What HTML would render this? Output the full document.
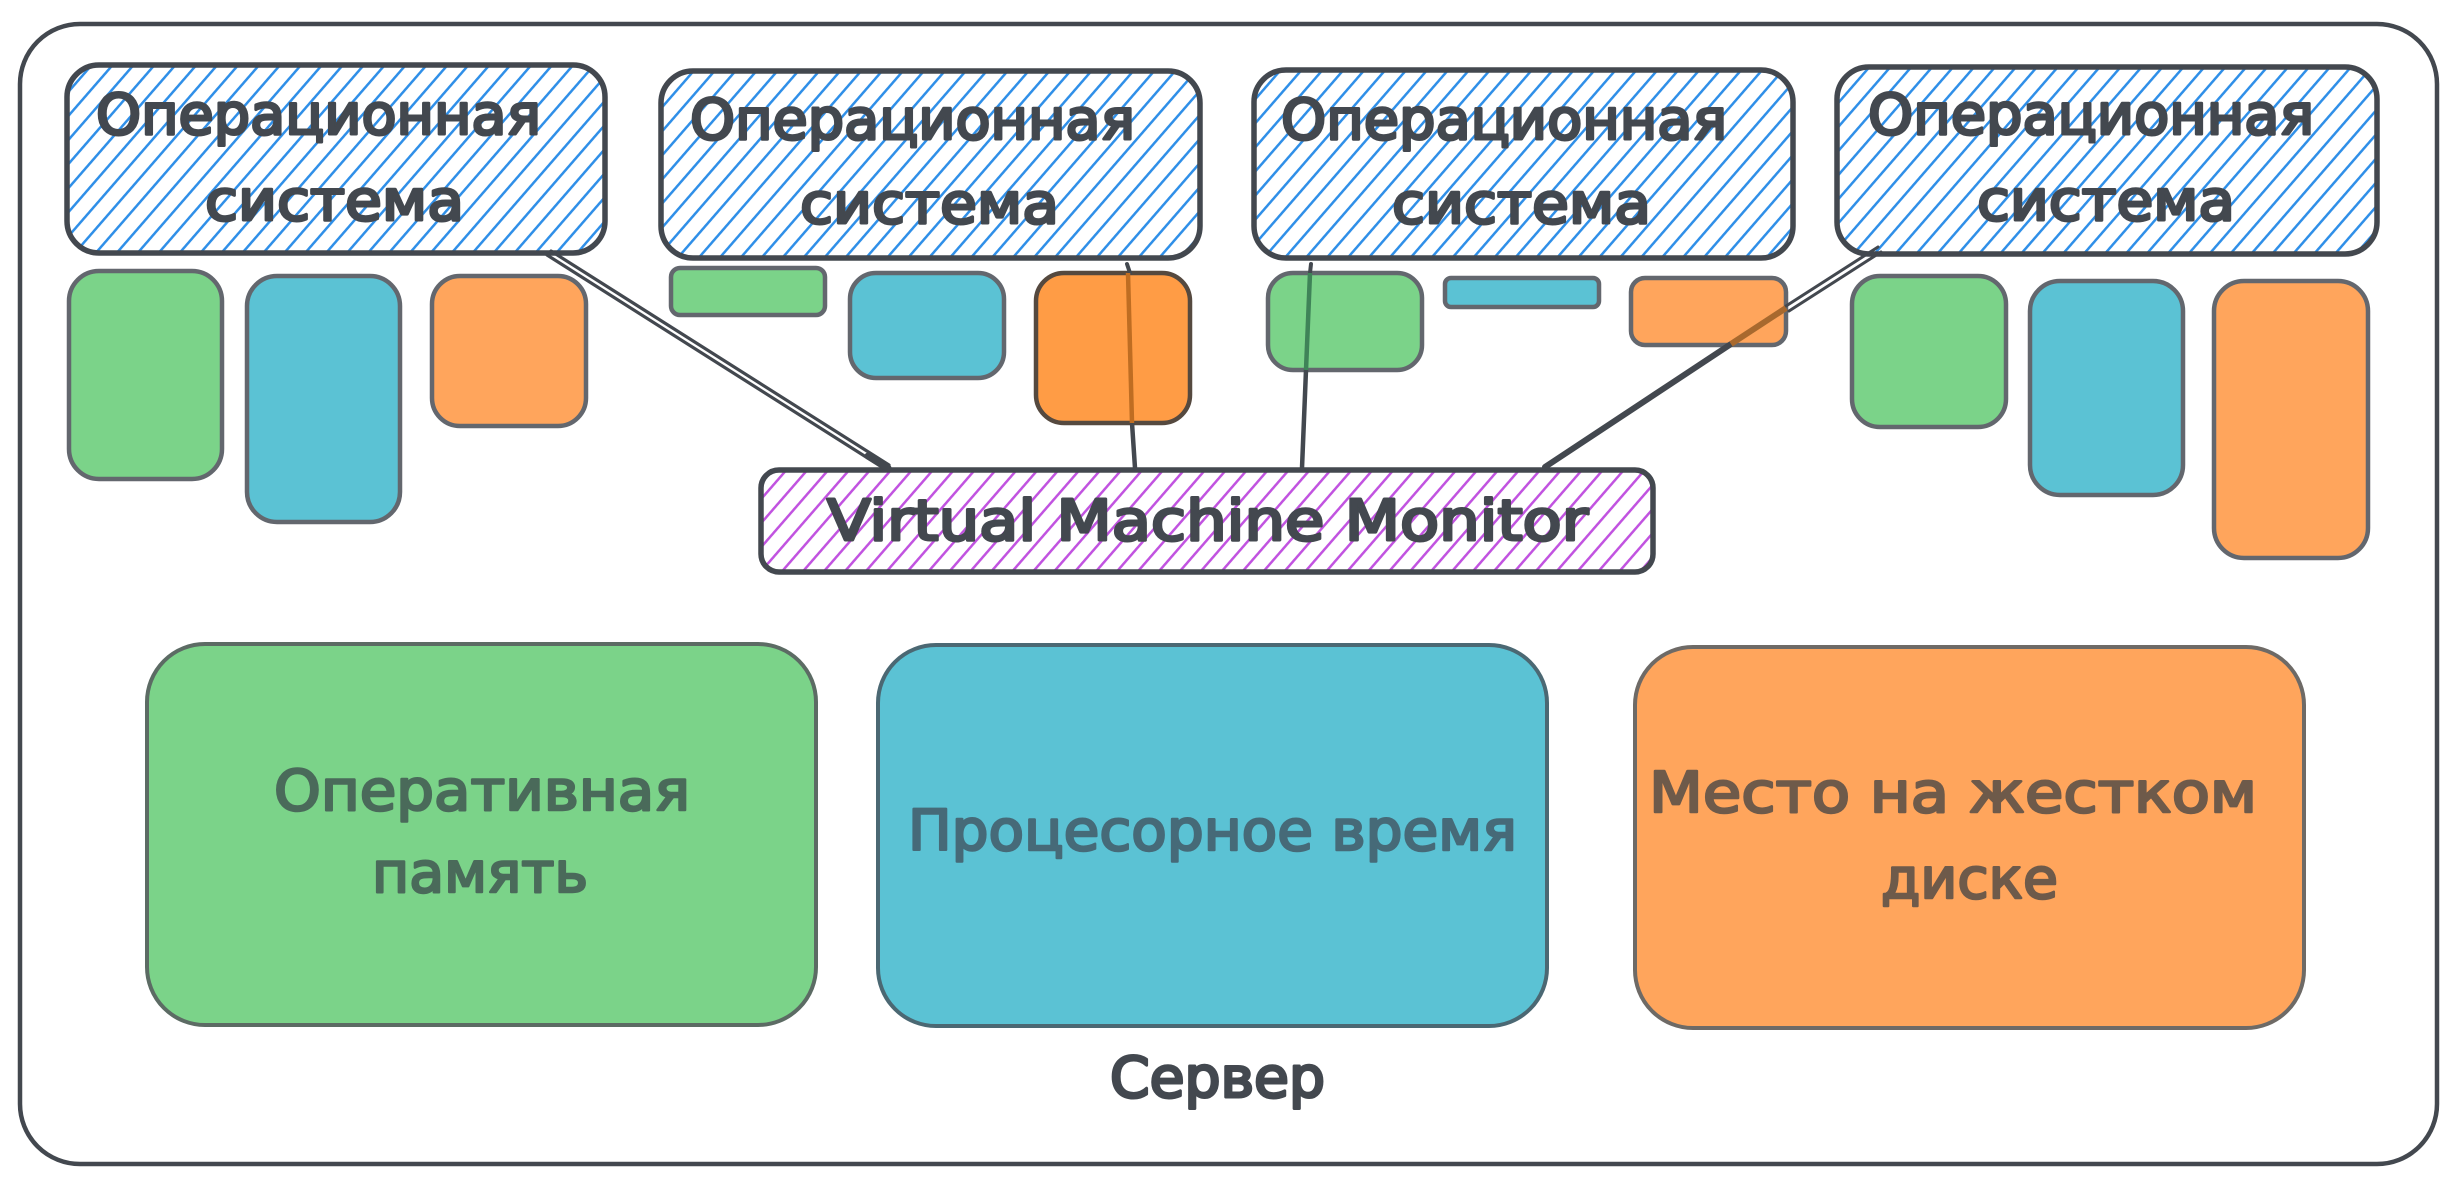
<!DOCTYPE html>
<html><head><meta charset="utf-8"><style>
html,body{margin:0;padding:0;background:#fff}
svg{display:block}
text{font-family:"DejaVu Sans","Liberation Sans",sans-serif;text-anchor:start;paint-order:stroke;stroke-linejoin:round}
.d{fill:#43484f;stroke:#43484f;stroke-width:3;font-size:56px}
</style></head><body>
<svg width="2457" height="1184" viewBox="0 0 2457 1184" xmlns="http://www.w3.org/2000/svg">
<defs>
<pattern id="hb" patternUnits="userSpaceOnUse" width="15.8" height="15.8" patternTransform="rotate(41)"><rect x="0" y="0" width="2.5" height="15.8" fill="#2f8fe8"/></pattern>
<pattern id="hp" patternUnits="userSpaceOnUse" width="15.8" height="15.8" patternTransform="rotate(41)"><rect x="0" y="0" width="2.5" height="15.8" fill="#c153e0"/></pattern>
</defs>
<rect width="2457" height="1184" fill="#fff"/>
<rect x="20" y="24" width="2417" height="1140" rx="60" fill="#fff" stroke="#43484f" stroke-width="4.5"/>

<!-- OS boxes -->
<g fill="url(#hb)" stroke="#43484f" stroke-width="5.5">
<rect x="67" y="65" width="538" height="188" rx="32"/>
<rect x="661" y="71" width="539" height="187" rx="32"/>
<rect x="1254" y="70" width="539" height="188" rx="32"/>
<rect x="1837" y="67" width="540" height="187" rx="32"/>
</g>

<!-- small boxes -->
<g stroke="#63676e" stroke-width="4.5">
<g fill="#7bd389">
<rect x="69" y="271" width="153" height="208" rx="30"/>
<rect x="671" y="268" width="154" height="47" rx="9"/>
<rect x="1268" y="273" width="154" height="97" rx="25"/>
<rect x="1852" y="276" width="154" height="151" rx="28"/>
</g>
<g fill="#5bc2d4">
<rect x="247" y="276" width="153" height="246" rx="30"/>
<rect x="850" y="273" width="154" height="105" rx="26"/>
<rect x="1445" y="278" width="154" height="29" rx="6"/>
<rect x="2030" y="281" width="153" height="214" rx="30"/>
</g>
<g fill="#ffa55c">
<rect x="432" y="276" width="154" height="150" rx="28"/>
<rect x="1036" y="273" width="154" height="150" rx="28" fill="#ff9c45" stroke="#55493f"/>
<rect x="1631" y="278" width="155" height="67" rx="14"/>
<rect x="2214" y="281" width="154" height="277" rx="30"/>
</g>
</g>

<!-- VMM -->
<rect x="761" y="470" width="892" height="102" rx="18" fill="url(#hp)" stroke="#43484f" stroke-width="5.5"/>

<!-- connectors -->
<g stroke="#43484f" fill="none" stroke-linecap="round">
<path d="M551 251L889 465" stroke-width="3.2"/>
<path d="M547 255L885 469" stroke-width="3.2"/>
<path d="M868 456L888 468" stroke-width="7"/>
<path d="M1127 264L1130 273" stroke-width="4"/>
<path d="M1132 423L1135 468" stroke-width="4.5"/>
<path d="M1311 264L1310 273" stroke-width="4"/>
<path d="M1306 370L1302 468" stroke-width="4.5"/>
<path d="M1545 467L1731 344" stroke-width="6"/>
<path d="M1786 306L1878 247" stroke-width="3"/>
<path d="M1789 311L1881 252" stroke-width="3"/>
</g>
<g fill="none" stroke-linecap="butt">
<path d="M1128 273L1132 423" stroke="#bf6d22" stroke-width="4.5"/>
<path d="M1310 273L1306 370" stroke="#3f8358" stroke-width="4.5"/>
<path d="M1731 344L1786 308" stroke="#a8692e" stroke-width="6"/>
</g>

<!-- big boxes -->
<rect x="147" y="644" width="669" height="381" rx="58" fill="#7bd389" stroke="#5c6b64" stroke-width="4"/>
<rect x="878" y="645" width="669" height="381" rx="58" fill="#5bc2d4" stroke="#4b6873" stroke-width="4"/>
<rect x="1635" y="647" width="669" height="381" rx="58" fill="#ffa55c" stroke="#6e6a66" stroke-width="4"/>

<!-- labels -->
<g class="d">
<text class="d" x="96" y="134" textLength="445" lengthAdjust="spacingAndGlyphs">Операционная</text>
<text class="d" x="205" y="220" textLength="259" lengthAdjust="spacingAndGlyphs">система</text>
<text class="d" x="690" y="139" textLength="445" lengthAdjust="spacingAndGlyphs">Операционная</text>
<text class="d" x="800" y="223" textLength="259" lengthAdjust="spacingAndGlyphs">система</text>
<text class="d" x="1281" y="139" textLength="446" lengthAdjust="spacingAndGlyphs">Операционная</text>
<text class="d" x="1392" y="223" textLength="259" lengthAdjust="spacingAndGlyphs">система</text>
<text class="d" x="1868" y="134" textLength="446" lengthAdjust="spacingAndGlyphs">Операционная</text>
<text class="d" x="1977" y="220" textLength="258" lengthAdjust="spacingAndGlyphs">система</text>
<text class="d" x="827" y="540" textLength="761" lengthAdjust="spacingAndGlyphs">Virtual Machine Monitor</text>
</g>
<text x="274" y="810" textLength="416" lengthAdjust="spacingAndGlyphs" style="fill:#4a6a5a;stroke:#4a6a5a;stroke-width:2.5;font-size:56px">Оперативная</text>
<text x="372" y="892" textLength="216" lengthAdjust="spacingAndGlyphs" style="fill:#4a6a5a;stroke:#4a6a5a;stroke-width:2.5;font-size:56px">память</text>
<text x="908" y="850" textLength="609" lengthAdjust="spacingAndGlyphs" style="fill:#466a78;stroke:#466a78;stroke-width:2.5;font-size:56px">Процесорное время</text>
<text x="1649" y="812" textLength="608" lengthAdjust="spacingAndGlyphs" style="fill:#6e5a4a;stroke:#6e5a4a;stroke-width:2.5;font-size:56px">Место на жестком</text>
<text x="1881" y="898" textLength="177" lengthAdjust="spacingAndGlyphs" style="fill:#6e5a4a;stroke:#6e5a4a;stroke-width:2.5;font-size:56px">диске</text>
<text class="d" x="1110" y="1097" textLength="215" lengthAdjust="spacingAndGlyphs">Сервер</text>
</svg>
</body></html>
